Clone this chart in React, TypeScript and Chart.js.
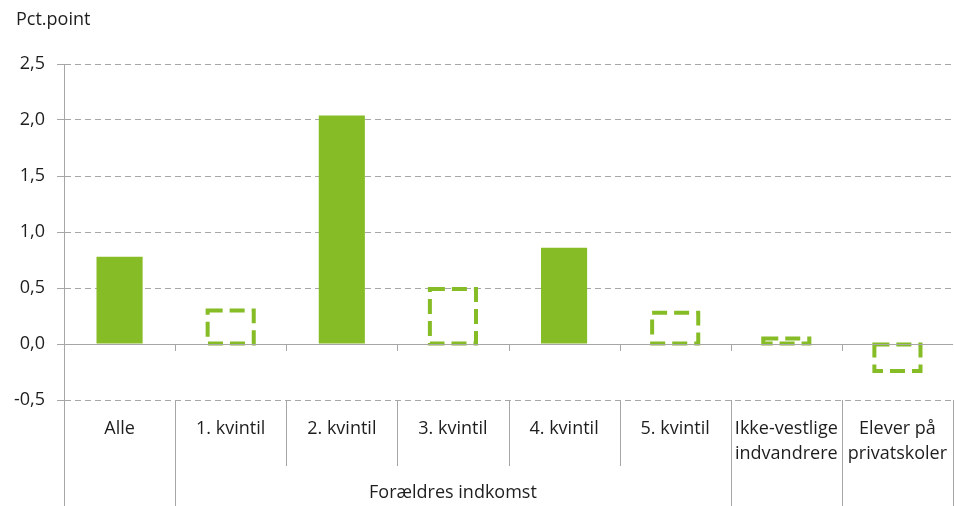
import React, { useEffect, useRef } from 'react';
import { Chart, registerables } from 'chart.js';

Chart.register(...registerables);

const categories: string[][] = [
  ['Alle'],
  ['1. kvintil'],
  ['2. kvintil'],
  ['3. kvintil'],
  ['4. kvintil'],
  ['5. kvintil'],
  ['Ikke-vestlige', 'indvandrere'],
  ['Elever på', 'privatskoler'],
];
const values: number[] = [0.78, 0.3, 2.04, 0.49, 0.86, 0.28, 0.05, -0.24];
const dashedFlags: boolean[] = [false, true, false, true, false, true, true, true];
const yTicks: number[] = [-0.5, 0, 0.5, 1, 1.5, 2, 2.5];
const groupLabel = 'Forældres indkomst';
const groupRange: number[] = [1, 5];
const yTitle = 'Pct.point';

const GREEN = '#86BC25';
const GRID = '#a6a6a6';
const TEXT = '#1e1e1e';
const FONT_SIZE = 18;
const FONT = `${FONT_SIZE}px 'Open Sans'`;

const overlay = {
  id: 'overlay',
  afterDatasetsDraw(chart: any) {
    const ctx: CanvasRenderingContext2D = chart.ctx;
    const meta = chart.getDatasetMeta(0);
    const xs = chart.scales.x;
    const ys = chart.scales.y;
    const ca = chart.chartArea;
    const H = chart.height;
    ctx.save();

    // dashed outline bars
    meta.data.forEach((el: any, i: number) => {
      if (!dashedFlags[i]) return;
      const p = el.getProps(['x', 'y', 'base', 'width'], true);
      ctx.save();
      ctx.strokeStyle = GREEN;
      ctx.lineWidth = 4;
      ctx.setLineDash([15, 7]);
      ctx.lineCap = 'butt';
      ctx.strokeRect(p.x - p.width / 2, Math.min(p.y, p.base), p.width, Math.abs(p.base - p.y));
      ctx.restore();
    });

    const catW = xs.getPixelForValue(1) - xs.getPixelForValue(0);
    const y0 = ys.getPixelForValue(0);

    ctx.strokeStyle = GRID;
    ctx.lineWidth = 1;
    ctx.setLineDash([]);

    // zero axis line
    ctx.beginPath();
    ctx.moveTo(ca.left - 7, Math.round(y0) + 0.5);
    ctx.lineTo(ca.right, Math.round(y0) + 0.5);
    ctx.stroke();

    // boundaries
    for (let b = 0; b <= categories.length; b++) {
      const bx = Math.round(xs.getPixelForValue(0) - catW / 2 + b * catW) + 0.5;
      if (b > 0 && b < categories.length) {
        ctx.beginPath();
        ctx.moveTo(bx, Math.round(y0));
        ctx.lineTo(bx, Math.round(y0) + 7);
        ctx.stroke();
      }
      const short = b > groupRange[0] && b <= groupRange[1];
      ctx.beginPath();
      ctx.moveTo(bx, b === 0 ? ca.top : ca.bottom);
      ctx.lineTo(bx, short ? ca.bottom + 66 : H);
      ctx.stroke();
    }

    // category labels
    ctx.fillStyle = TEXT;
    ctx.font = FONT;
    ctx.textAlign = 'center';
    ctx.textBaseline = 'middle';
    categories.forEach((lines, i) => {
      const cx = xs.getPixelForValue(i);
      lines.forEach((ln, k) => {
        ctx.fillText(ln, cx, ca.bottom + 29 + k * 25);
      });
    });

    // group label
    const gx0 = xs.getPixelForValue(groupRange[0]) - catW / 2;
    const gx1 = xs.getPixelForValue(groupRange[1]) + catW / 2;
    ctx.fillText(groupLabel, (gx0 + gx1) / 2, ca.bottom + 93);

    // y title
    ctx.textAlign = 'left';
    ctx.fillText(yTitle, 16, 20);

    ctx.restore();
  },
};

export default function App() {
  const ref = useRef<HTMLCanvasElement | null>(null);
  useEffect(() => {
    if (!ref.current) return;
    const chart = new Chart(ref.current, {
      type: 'bar',
      data: {
        labels: categories.map((c) => c.join(' ')),
        datasets: [
          {
            data: values,
            backgroundColor: values.map((_, i) => (dashedFlags[i] ? 'rgba(0,0,0,0)' : GREEN)),
            borderWidth: 0,
            categoryPercentage: 1,
            barPercentage: 0.415,
          },
        ],
      },
      options: {
        responsive: false,
        animation: false,
        devicePixelRatio: 1,
        layout: { padding: { left: 0, right: 1, top: 64, bottom: 106 } },
        plugins: { legend: { display: false }, tooltip: { enabled: false }, title: { display: false } },
        scales: {
          x: { display: false, offset: true },
          y: {
            min: -0.5,
            max: 2.5,
            afterFit: (s: any) => {
              s.width = 64;
            },
            afterBuildTicks: (s: any) => {
              s.ticks = yTicks.map((v) => ({ value: v }));
            },
            ticks: {
              callback: (v: any) => Number(v).toFixed(1).replace('.', ','),
              font: { family: 'Open Sans', size: FONT_SIZE },
              color: TEXT,
              padding: 12,
            },
            grid: { color: GRID, tickLength: 7, lineWidth: 1 },
            border: { display: true, color: GRID, dash: [6, 4] },
          },
        },
      },
      plugins: [overlay],
    } as any);
    return () => chart.destroy();
  }, []);
  return (
    <div style={{ position: 'fixed', left: 0, top: 0, width: 954, height: 506, background: '#fff' }}>
      <canvas ref={ref} width={954} height={506} style={{ width: 954, height: 506, display: 'block' }} />
    </div>
  );
}
